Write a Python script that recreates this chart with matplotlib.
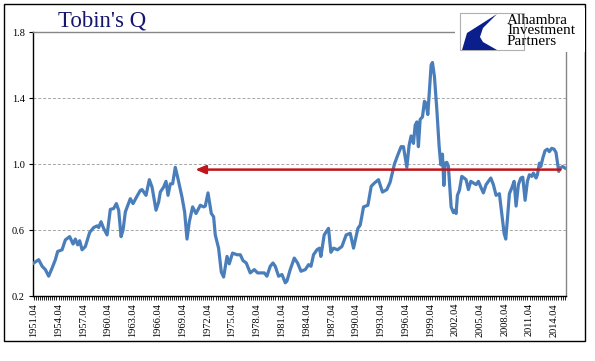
import numpy as np
import matplotlib.pyplot as plt
from matplotlib.patches import Polygon, Rectangle
from matplotlib.ticker import FixedLocator, MultipleLocator

# Tobin's Q, quarterly (decimal year, value)
years = [1951.75, 1952.35, 1952.77, 1953.16, 1953.56, 1953.98, 1954.37, 1954.65,
         1955.18, 1955.58, 1956.10, 1956.51, 1956.79, 1957.07, 1957.31, 1957.60,
         1958.00, 1958.52, 1959.01, 1959.42, 1959.61, 1959.90, 1960.21, 1960.63,
         1961.02, 1961.42, 1961.75, 1962.03, 1962.32, 1962.56, 1962.84, 1963.44,
         1963.77, 1964.25, 1964.65,
         1964.86, 1965.34, 1965.74, 1966.07, 1966.55, 1966.87, 1967.07, 1967.47,
         1967.76, 1968.00, 1968.28, 1968.56, 1968.88, 1969.21, 1969.69, 1970.01,
         1970.30, 1970.58, 1970.98, 1971.39, 1971.91, 1972.31, 1972.51, 1972.84,
         1973.24, 1973.52, 1973.72, 1974.12, 1974.45, 1974.73, 1975.14, 1975.41,
         1975.81, 1976.35, 1976.75,
         1977.07, 1977.47, 1977.95, 1978.44, 1978.84, 1979.37, 1979.65, 1979.97,
         1980.37, 1980.70, 1980.98, 1981.38, 1981.79, 1982.19, 1982.39, 1982.79,
         1983.28, 1983.68, 1984.09, 1984.61, 1985.01, 1985.30, 1985.61, 1986.02,
         1986.33, 1986.50, 1986.90, 1987.42, 1987.71, 1988.03, 1988.51, 1989.04,
         1989.56, 1990.05,
         1990.45, 1990.98, 1991.26, 1991.66, 1992.19, 1992.59, 1992.99, 1993.47,
         1993.95, 1994.48, 1994.88, 1995.40, 1995.81, 1996.21, 1996.49, 1996.90,
         1997.18, 1997.42, 1997.70, 1997.91, 1998.11, 1998.30, 1998.51, 1998.79,
         1999.03, 1999.20, 1999.44, 1999.84, 2000.00, 2000.24, 2000.53, 2000.81,
         2001.01, 2001.21, 2001.38, 2001.53, 2001.74, 2001.93, 2002.26, 2002.54,
         2002.74,
         2002.86, 2003.02, 2003.26, 2003.55, 2003.83, 2004.07, 2004.35, 2004.64,
         2004.96, 2005.28, 2005.56, 2005.85, 2006.16, 2006.49, 2006.77, 2007.06,
         2007.37, 2007.70, 2008.10, 2008.39, 2008.67, 2008.87, 2009.06, 2009.31,
         2009.60, 2009.88, 2010.12, 2010.40, 2010.69, 2010.93, 2011.21, 2011.49,
         2011.73, 2012.02, 2012.21, 2012.54, 2012.70, 2012.94, 2013.11, 2013.35,
         2013.62, 2013.90, 2014.14, 2014.43, 2014.71, 2014.95, 2015.11, 2015.28,
         2015.44, 2015.76, 2016.04]
tobins_q = [0.40, 0.42, 0.38, 0.36, 0.32, 0.37, 0.42, 0.47,
            0.48, 0.54, 0.56, 0.515, 0.545, 0.51, 0.535, 0.48,
            0.50, 0.585, 0.615, 0.625, 0.615, 0.65, 0.61, 0.57,
            0.725, 0.73, 0.76, 0.72, 0.56, 0.60, 0.71, 0.79,
            0.76, 0.805, 0.84,
            0.845, 0.81, 0.905, 0.86, 0.72, 0.77, 0.83, 0.86,
            0.895, 0.81, 0.88, 0.88, 0.98, 0.91, 0.80, 0.71,
            0.545, 0.65, 0.74, 0.70, 0.75, 0.74, 0.745, 0.825,
            0.70, 0.68, 0.57, 0.49, 0.345, 0.315, 0.44, 0.395,
            0.46, 0.45, 0.45,
            0.415, 0.40, 0.34, 0.36, 0.34, 0.34, 0.34, 0.32,
            0.38, 0.40, 0.38, 0.32, 0.33, 0.28, 0.29, 0.36,
            0.43, 0.40, 0.35, 0.36, 0.39, 0.38, 0.45, 0.48,
            0.49, 0.44, 0.57, 0.61, 0.465, 0.49, 0.48, 0.50,
            0.57, 0.58,
            0.49, 0.61, 0.63, 0.74, 0.75, 0.865, 0.885, 0.905,
            0.83, 0.845, 0.89, 1.00, 1.055, 1.105, 1.105, 0.98,
            1.115, 1.17, 1.125, 1.235, 1.255, 1.105, 1.27, 1.285,
            1.38, 1.37, 1.30, 1.60, 1.615, 1.53, 1.33, 1.105,
            0.995, 1.06, 0.87, 1.005, 1.01, 0.985, 0.74, 0.705,
            0.72,
            0.70, 0.81, 0.84, 0.925, 0.915, 0.905, 0.845, 0.895,
            0.885, 0.875, 0.895, 0.86, 0.825, 0.875, 0.895, 0.915,
            0.875, 0.81, 0.82, 0.70, 0.58, 0.545, 0.66, 0.82,
            0.855, 0.895, 0.745, 0.875, 0.915, 0.92, 0.78, 0.895,
            0.935, 0.925, 0.945, 0.915, 0.935, 1.005, 0.985, 1.035,
            1.08, 1.09, 1.075, 1.095, 1.09, 1.07, 1.015, 0.955,
            0.975, 0.985, 0.975]

# arrow: current level pointing back to the late 1960s
arrow_level = 0.966
arrow_from = 2015.5
arrow_to = 1971.3

tick_years = [1951.75 + 3 * i for i in range(22)]
tick_labels = ["%d.04" % (1951 + 3 * i) for i in range(22)]
y_ticks = [0.2, 0.6, 1.0, 1.4, 1.8]

W, H = 595, 361
fig = plt.figure(figsize=(W / 100, H / 100), dpi=100)
fig.patch.set_facecolor("white")

# outer black frame
fig.patches.append(Rectangle((4 / W, 1 - 341 / H), 581 / W, 337 / H,
                             transform=fig.transFigure, fill=False,
                             edgecolor="black", linewidth=1.0))

ax = fig.add_axes([33.3 / W, 1 - 296 / H, (566 - 33.3) / W, 264 / H])
ax.plot(years, tobins_q, color="#4a7ebb", linewidth=2.3, solid_joinstyle="round",
        zorder=3)

for lvl in [0.6, 1.0, 1.4]:
    ax.axhline(lvl, color="#a6a6a6", linewidth=0.7, linestyle=(0, (3, 2)), zorder=1)

ax.annotate("", xy=(arrow_to, arrow_level), xytext=(arrow_from, arrow_level),
            arrowprops=dict(arrowstyle="-|>,head_length=0.6,head_width=0.25",
                            color="#c0161b", linewidth=1.8, mutation_scale=10,
                            shrinkA=0, shrinkB=0),
            zorder=4)

ax.set_xlim(1951.7, 2016.16)
ax.set_ylim(0.2, 1.8)
ax.xaxis.set_major_locator(FixedLocator(tick_years))
ax.set_xticklabels(tick_labels, rotation=90, fontfamily="Liberation Serif",
                   fontsize=7.5)
ax.xaxis.set_minor_locator(MultipleLocator(0.25))
ax.set_yticks(y_ticks)
ax.set_yticklabels(["%.1f" % v for v in y_ticks], fontfamily="Liberation Serif",
                   fontsize=7.5)
ax.tick_params(axis="x", which="both", direction="out", length=3, width=0.6,
               pad=2)
ax.tick_params(axis="y", direction="out", length=3, width=0.8, pad=3)

for side in ["left", "bottom"]:
    ax.spines[side].set_color("black")
    ax.spines[side].set_linewidth(1.0)
for side in ["top", "right"]:
    ax.spines[side].set_color("#868686")
    ax.spines[side].set_linewidth(1.0)

fig.text(58 / W, 1 - 27 / H, "Tobin's Q", fontfamily="Liberation Serif",
         fontsize=16.5, color="#16166e", va="baseline", ha="left")

# logo block (covers the plot frame corner)
lax = fig.add_axes([455 / W, 1 - 52 / H, 130 / W, 44 / H], zorder=5)
lax.set_xlim(455, 585)
lax.set_ylim(52, 8)
lax.set_facecolor("white")
lax.axis("off")
lax.add_patch(Rectangle((455, 8), 130, 44, facecolor="white", edgecolor="none"))
lax.add_patch(Rectangle((460, 13), 64, 37, facecolor="white",
                        edgecolor="#b0b0b0", linewidth=0.8))
lax.add_patch(Polygon([(497, 14), (467, 33), (462, 50), (497, 50), (490, 46),
                       (483, 42), (480, 37), (483, 28)],
                      closed=True, facecolor="#0b1f8c", edgecolor="none"))
lax.text(507, 13.5, "Alhambra\nInvestment\nPartners", fontfamily="Liberation Serif",
         fontsize=11, linespacing=0.78, va="top", ha="left", color="black")

fig.savefig("out.png", dpi=100, facecolor="white")
